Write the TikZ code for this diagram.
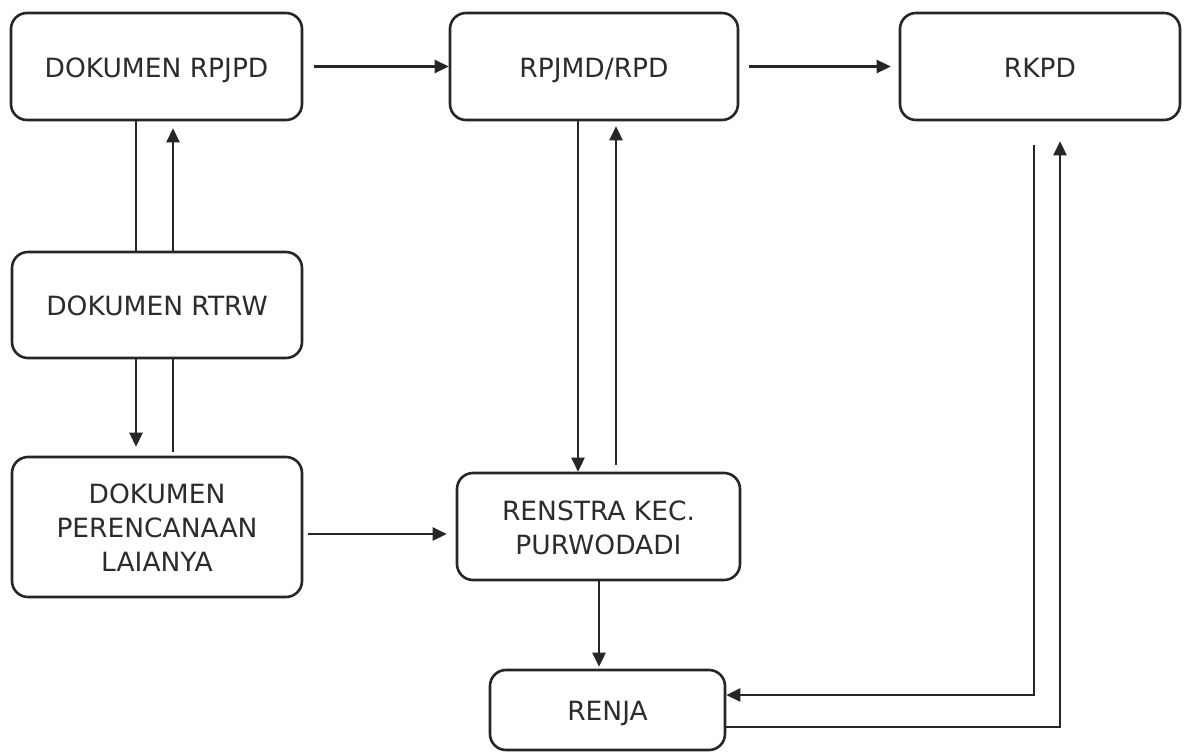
\documentclass[tikz,border=0pt]{standalone}
\usepackage{fontspec}
\setmainfont{DejaVu Sans}
\usetikzlibrary{arrows.meta,calc}
\definecolor{ink}{HTML}{262626}
\definecolor{txt}{HTML}{2C2C2C}
\newcommand\boxtext[1]{\raisebox{-4pt}[\height][\depth]{\begin{tabular}{@{}c@{}}#1\end{tabular}}}
\begin{document}
\begin{tikzpicture}[x=1pt,y=-1pt,
  box/.style={draw=ink,line width=2.6pt,rounded corners=16pt,
    text=txt,font=\fontsize{26.5}{34}\selectfont,inner sep=0pt},
  conn/.style={draw=ink,line width=2.6pt},
  arr/.style={conn,-{Triangle[length=14pt,width=13pt]}}]
\useasboundingbox[fill=white] (0,0) rectangle (1184,752);
% boxes
\node[box,minimum width=291pt,minimum height=107pt] (rpjpd) at (156.5,66.5) {\boxtext{DOKUMEN RPJPD}};
\node[box,minimum width=288pt,minimum height=107pt] (rpjmd) at (594,66.5) {\boxtext{RPJMD/RPD}};
\node[box,minimum width=280pt,minimum height=107pt] (rkpd) at (1040,66.5) {\boxtext{RKPD}};
\node[box,minimum width=290pt,minimum height=106pt] (rtrw) at (157,305) {\boxtext{DOKUMEN RTRW}};
\node[box,minimum width=290pt,minimum height=140pt] (lain) at (157,527) {\boxtext{DOKUMEN\\PERENCANAAN\\LAIANYA}};
\node[box,minimum width=283pt,minimum height=107pt] (renstra) at (598.5,526.5) {\boxtext{RENSTRA KEC.\\PURWODADI}};
\node[box,minimum width=235pt,minimum height=80pt] (renja) at (607.5,710) {\boxtext{RENJA}};
% helper coordinates
\coordinate (L) at (136,0);
\coordinate (R) at (173,0);
\coordinate (M1) at (578,0);
\coordinate (M2) at (616,0);
\coordinate (X) at (599,0);
\coordinate (K1) at (1034,0);
\coordinate (K2) at (1060,0);
\coordinate (Y1) at (0,534);
\coordinate (Y2) at (0,695);
\coordinate (Y3) at (0,727);
% top row
\draw[arr] ($(rpjpd.east)+(11,0)$) -- (rpjmd.west);
\draw[arr] ($(rpjmd.east)+(10,0)$) -- ($(rkpd.west)+(-8,0)$);
% left column
\draw[conn] (rpjpd.south -| L) -- (rtrw.north -| L);
\draw[arr] (rtrw.south -| L) -- ($(lain.north -| L)+(0,-9)$);
\draw[conn] ($(lain.north -| R)+(0,-4)$) -- (rtrw.south -| R);
\draw[arr] (rtrw.north -| R) -- ($(rpjpd.south -| R)+(0,7)$);
% middle column
\draw[arr] (rpjmd.south -| M1) -- (renstra.north -| M1);
\draw[arr] ($(renstra.north -| M2)+(0,-7)$) -- ($(rpjmd.south -| M2)+(0,5)$);
\draw[arr] (renstra.south -| X) -- ($(renja.north -| X)+(0,-2)$);
\draw[arr] ($(lain.east |- Y1)+(5,0)$) -- ($(renstra.west |- Y1)+(-9,0)$);
% right loop
\draw[arr] ($(rkpd.south -| K1)+(0,24)$) |- (renja.east |- Y2);
\draw[arr] (renja.east |- Y3) -| ($(rkpd.south -| K2)+(0,20)$);
\end{tikzpicture}
\end{document}
